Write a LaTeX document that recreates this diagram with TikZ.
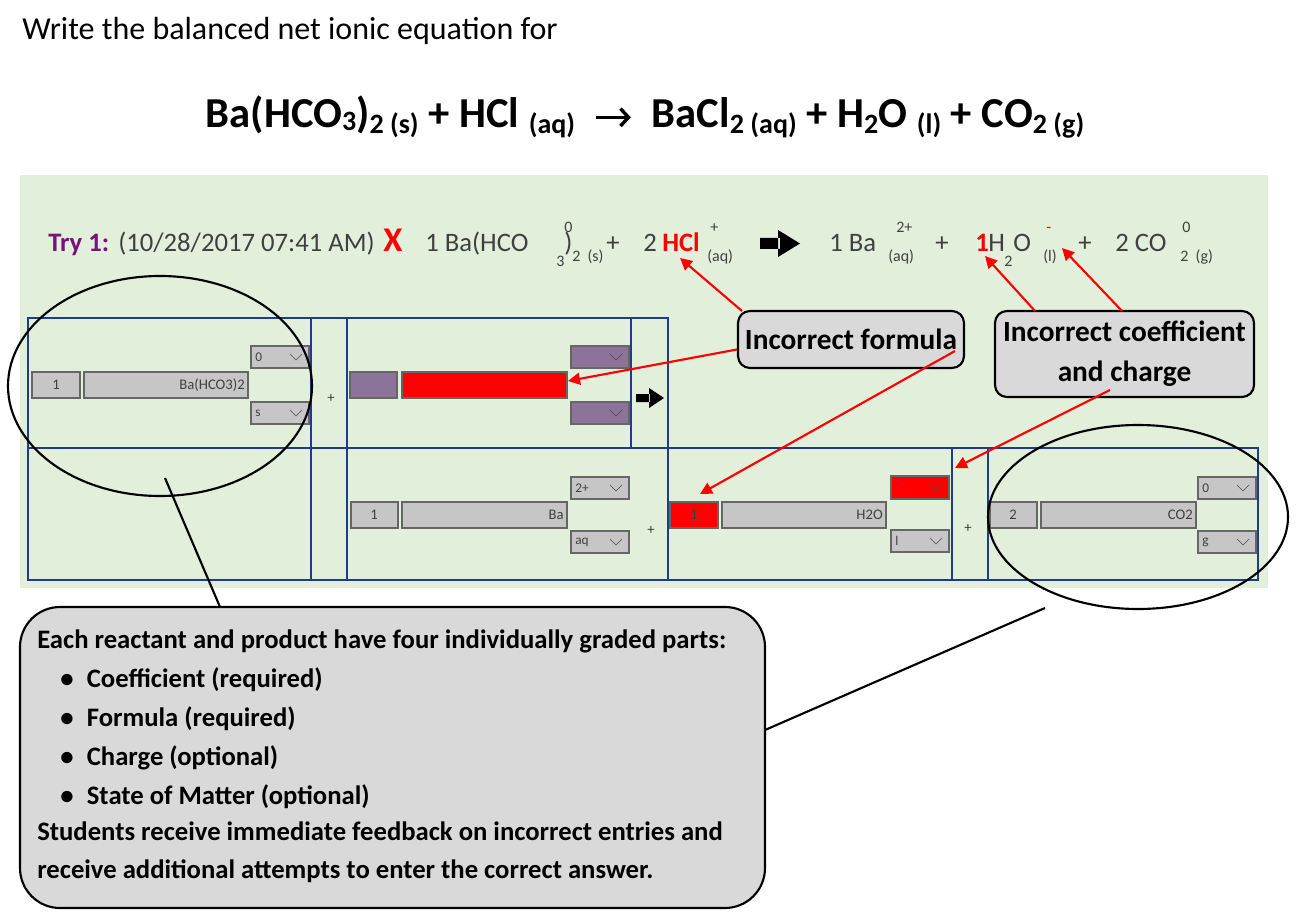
\documentclass[tikz,border=0pt]{standalone}
\usepackage{fontspec}
\setmainfont{Carlito}
\usetikzlibrary{arrows.meta}
\definecolor{bg}{HTML}{E2EFDA}
\definecolor{fld}{HTML}{C6C6C6}
\definecolor{purp}{HTML}{8C7399}
\definecolor{tryc}{HTML}{7B0F7B}
\definecolor{gridb}{HTML}{1F3C88}
\definecolor{txt}{HTML}{404040}
\newcommand\fieldbox[5]{\draw[draw=gray!80!black,fill=#5,line width=0.8pt] (#1,#2) rectangle (#3,#4);}
\newcommand\ddbox[6]{\fieldbox{#1}{#2}{#3}{#4}{#6}
  \node[anchor=west,font=\fontsize{10}{11}\selectfont,text=txt,inner sep=0pt] at (#1+4,{(#2+#4)/2}) {#5};
  \draw[gray!60!black,line width=0.5pt] (#3-19,{(#2+#4)/2-3}) -- (#3-13,{(#2+#4)/2+3}) -- (#3-7,{(#2+#4)/2-3});}
\tikzset{
  redarr/.style={red,line width=1.6pt,-{Triangle[length=9pt,width=9pt]}},
  callout/.style={draw=black,line width=1.6pt,fill=gray!30,rounded corners=9pt},
  sm/.style={font=\fontsize{12}{13}\selectfont,text=txt,inner sep=0pt,anchor=base west},
  tr/.style={font=\fontsize{20}{22}\selectfont,text=txt,inner sep=0pt,anchor=base west},
  ftxt/.style={font=\fontsize{11}{12}\selectfont,text=txt,inner sep=0pt},
  bx/.style={anchor=base west,inner sep=0pt,font=\fontsize{20}{22}\selectfont\bfseries},
}
\newcommand\eqarrow{\tikz[baseline=-8pt]\draw[line width=2.6pt,-{Straight Barb[length=6pt,width=13pt]}] (0,0) -- (26pt,0);}
\begin{document}
\begin{tikzpicture}[x=0.75pt,y=-0.75pt]
\useasboundingbox (0,0) rectangle (1301,919);
\node[anchor=base west,inner sep=0pt,font=\fontsize{24}{28}\selectfont] (title) at (22,40) {Write the balanced net ionic equation for};
\node[anchor=base,inner sep=0pt,font=\fontsize{32}{36}\selectfont\bfseries] (eq) at (645,128) {Ba(HCO{\fontsize{21}{24}\selectfont\raisebox{-2pt}{3}})\raisebox{-4pt}{\fontsize{21}{24}\selectfont 2 (s)} + HCl {\fontsize{21}{24}\selectfont\raisebox{-4pt}{(aq)}} \ \eqarrow\ \ BaCl\raisebox{-4pt}{\fontsize{21}{24}\selectfont 2 (aq)} + H{\fontsize{21}{24}\selectfont\raisebox{-4pt}{2}}O {\fontsize{21}{24}\selectfont\raisebox{-4pt}{(l)}} + CO\raisebox{-4pt}{\fontsize{21}{24}\selectfont 2 (g)}};
\fill[bg] (20,175) rectangle (1268,588);
% try line
\node[tr,text=tryc,font=\fontsize{20}{22}\selectfont\bfseries] (try) at (48,252) {Try 1:};
\node[tr] (date) at (118,252) {(10/28/2017 07:41 AM)};
\node[tr,text=red,font=\fontsize{26}{28}\selectfont\bfseries] (x) at (383,252) {X};
\node[tr] (s1) at (425,252) {1 Ba(HCO};
\node[sm] at (556,267) {3};
\node[tr] at (564,252) {)};
\node[sm] at (572,262) {2 \ (s)};
\node[sm] at (564,233) {0};
\node[tr] at (606,252) {+};
\node[tr] (s2) at (643,252) {2};
\node[tr,text=red,font=\fontsize{20}{22}\selectfont\bfseries] (hcl) at (662,252) {HCl};
\node[sm] at (710,233) {+};
\node[sm] (aq1) at (707,262) {(aq)};
\fill (760,238) rectangle (780,249) (778,230) -- (800,243.5) -- (778,257) -- cycle;
\node[tr] (s3) at (829,252) {1 Ba};
\node[sm] at (896,233) {2+};
\node[sm] at (888,262) {(aq)};
\node[tr] at (935,252) {+};
\node[tr,text=red,font=\fontsize{20}{22}\selectfont\bfseries] (c1) at (975,252) {1};
\node[tr] (h) at (988,252) {H};
\node[sm] at (1004,267) {2};
\node[tr] at (1013,252) {O};
\node[sm,text=red] (chg) at (1046,233) {-};
\node[sm] at (1043,262) {(l)};
\node[tr] at (1078,252) {+};
\node[tr] (s4) at (1115,252) {2 CO};
\node[sm] at (1182,233) {0};
\node[sm] at (1180,262) {2 \ (g)};
% grid
\begin{scope}[gridb,line width=0.9pt]
\draw (28,318) rectangle (668,448);
\draw (311,318) -- (311,448) (347,318) -- (347,448) (631,318) -- (631,448);
\draw (28,448) rectangle (1258,580);
\draw (311,448) -- (311,580) (347,448) -- (347,580) (668,448) -- (668,580) (952,448) -- (952,580) (988,448) -- (988,580);
\end{scope}
% widgets top
\fieldbox{32}{372}{80}{398}{fld}\node[ftxt] at (56,385) {1};
\fieldbox{84}{372}{248}{398}{fld}\node[ftxt,anchor=east] at (245,385) {Ba(HCO3)2};
\ddbox{251}{346}{309}{368}{0}{fld}
\ddbox{251}{402}{309}{424}{s}{fld}
\node[ftxt] at (331,398) {+};
\fieldbox{350}{372}{397}{398}{purp}
\fieldbox{402}{372}{567}{398}{red}
\ddbox{571}{346}{629}{368}{}{purp}
\ddbox{571}{402}{629}{424}{}{purp}
\fill (636,394) rectangle (650,402) (649,388) -- (664,398) -- (649,408) -- cycle;
% widgets bottom
\fieldbox{351}{502}{398}{528}{fld}\node[ftxt] at (374,515) {1};
\fieldbox{402}{502}{567}{528}{fld}\node[ftxt,anchor=east] at (564,515) {Ba};
\ddbox{571}{477}{629}{499}{2+}{fld}
\ddbox{571}{531}{629}{553}{aq}{fld}
\node[ftxt] at (651,530) {+};
\fieldbox{670}{502}{718}{528}{red}\node[ftxt] at (694,515) {1};
\fieldbox{722}{502}{886}{528}{fld}\node[ftxt,anchor=east] at (883,515) {H2O};
\ddbox{891}{476}{949}{499}{-}{red}
\ddbox{891}{530}{949}{552}{l}{fld}
\node[ftxt] at (968,528) {+};
\fieldbox{990}{502}{1037}{528}{fld}\node[ftxt] at (1013,515) {2};
\fieldbox{1041}{502}{1196}{528}{fld}\node[ftxt,anchor=east] at (1193,515) {CO2};
\ddbox{1198}{477}{1256}{499}{0}{fld}
\ddbox{1198}{531}{1256}{553}{g}{fld}
% ellipses
\draw[line width=1.6pt] (160,386) ellipse [x radius=152,y radius=110];
\draw[line width=1.6pt] (1138,517) ellipse [x radius=150,y radius=92];
% callouts
\node[callout,minimum width=226pt*0.75,minimum height=57pt*0.75,font=\fontsize{22}{24}\selectfont\bfseries] (cf) at (851,339.5) {Incorrect formula};
\node[callout,minimum width=259pt*0.75,minimum height=86pt*0.75,align=center,inner sep=2pt,font=\fontsize{22}{30}\selectfont\bfseries] (cc) at (1124.5,354) {Incorrect coefficient\\and charge};
\node[callout,rounded corners=30pt,minimum width=745pt*0.75,minimum height=301pt*0.75] (big) at (392.5,757.5) {};
\node[bx] (bt) at (37,648) {Each reactant and product have four individually graded parts:};
\foreach \y/\t in {687/Coefficient (required),726/Formula (required),765/Charge (optional),804/State of Matter (optional)}
  {\node[bx] at (60,\y) {\textbullet\hspace{10pt}\t};}
\node[bx] at (37,840) {Students receive immediate feedback on incorrect entries and};
\node[bx] at (37,878) {receive additional attempts to enter the correct answer.};
% connectors
\coordinate (e1) at (165,478);
\coordinate (e2) at (1045,608);
\draw[line width=1.6pt] (e1) -- (220,607);
\draw[line width=1.6pt] (e2) -- (765,730);
\coordinate (redf) at (568,381);
\coordinate (hclp) at (680,258);
\coordinate (c1p) at (985,256);
\coordinate (chgp) at (1062,248);
\coordinate (cbox) at (700,494);
\coordinate (dbox) at (955,468);
\draw[redarr] (742,311) -- (hclp);
\draw[redarr] (cf.west) ++(0,10) -- (redf);
\draw[redarr] (1035,311) -- (c1p);
\draw[redarr] (1122,311) -- (chgp);
\draw[redarr] (955,351) -- (cbox);
\draw[redarr] (1110,390) -- (dbox);
\end{tikzpicture}
\end{document}
